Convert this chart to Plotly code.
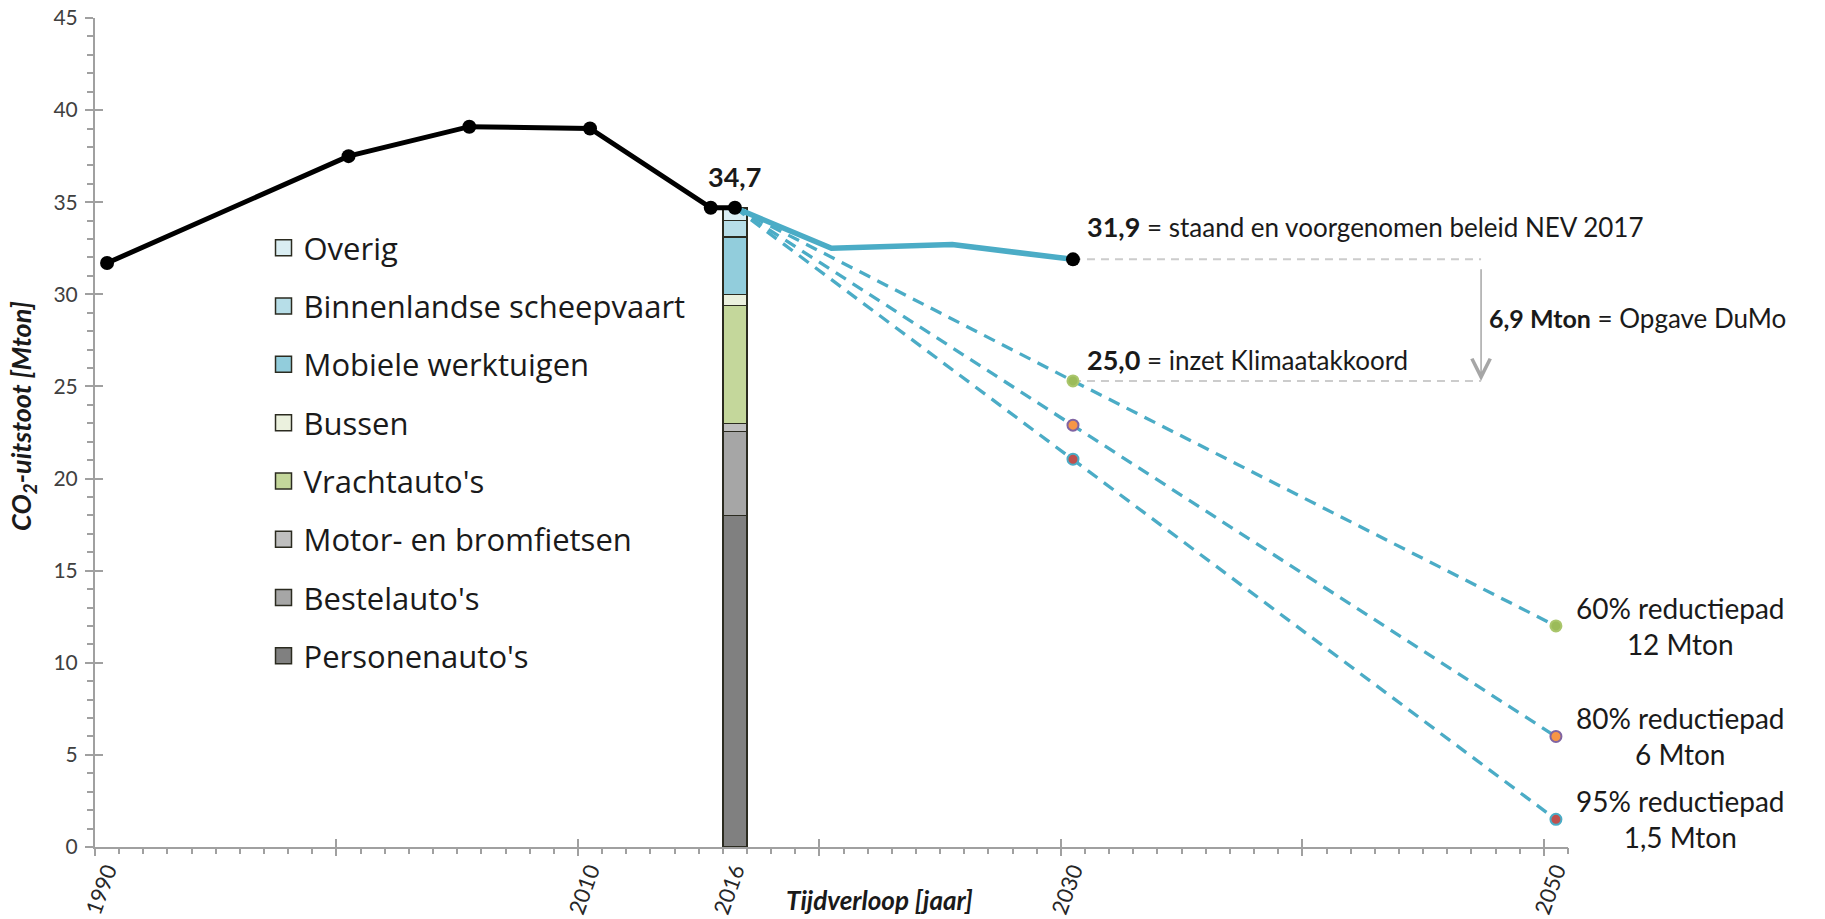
import plotly.graph_objects as go

# ---------------- data ----------------
hist_years = [1990, 2000, 2005, 2010, 2015, 2016]
hist_values = [31.7, 37.5, 39.1, 39.0, 34.7, 34.7]

nev_years = [2016, 2020, 2025, 2030]
nev_values = [34.7, 32.5, 32.7, 31.9]

path_years = [2016, 2030, 2050]
path60 = [34.7, 25.3, 12.0]
path80 = [34.7, 22.9, 6.0]
path95 = [34.7, 21.05, 1.5]
path_fill = ["#9bbb59", "#f79646", "#c0504d"]
path_edge = ["#aac66c", "#8064a2", "#4bacc6"]
path_labels = ["60% reductiepad<br>12 Mton", "80% reductiepad<br>6 Mton", "95% reductiepad<br>1,5 Mton"]

bar_year = [2016]
sectors = ["Personenauto's", "Bestelauto's", "Motor- en bromfietsen", "Vrachtauto's",
           "Bussen", "Mobiele werktuigen", "Binnenlandse scheepvaart", "Overig"]
sector_values = [18.0, 4.55, 0.45, 6.4, 0.6, 3.1, 0.9, 0.7]
sector_colors = ["#808080", "#a6a6a6", "#bfbfbf", "#c4d79b",
                 "#ebf1de", "#92cddc", "#b7dee8", "#daeef3"]

tick_years = [1990, 2010, 2016, 2030, 2050]
tick_labels = ["1990", "2010", "2016", "2030", "2050"]

label_2016 = "34,7"
label_nev = "31,9"
label_klimaat = "25,0"
label_gap = "6,9 Mton"
text_nev = " = staand en voorgenomen beleid NEV 2017"
text_klimaat = " = inzet Klimaatakkoord"
text_gap = " = Opgave DuMo"
y_title = "CO<sub>2</sub>-uitstoot [Mton]"
x_title = "Tijdverloop [jaar]"

# ---------------- style ----------------
AXIS_GRAY = "#a0a0a0"
TEAL = "#4bacc6"
FONT = "Lato"
TXT = "#1a1a1a"
arrow_x = 2046.9

fig = go.Figure()

# stacked bar 2016
for name, val, col in zip(sectors, sector_values, sector_colors):
    fig.add_trace(go.Bar(x=bar_year, y=[val], width=1.0, name=name,
                         marker=dict(color=col, line=dict(color="#2b2b20", width=1.5)),
                         showlegend=False, hoverinfo="name+y"))

# gray dashed reference lines to the arrow
for yv in [nev_values[-1], path60[1]]:
    fig.add_trace(go.Scatter(x=[nev_years[-1], arrow_x], y=[yv, yv], mode="lines",
                             line=dict(color="#cccccc", width=2, dash="8px,6px"),
                             showlegend=False, hoverinfo="skip"))

# reduction paths
for vals in [path60, path80, path95]:
    fig.add_trace(go.Scatter(x=path_years, y=vals, mode="lines",
                             line=dict(color=TEAL, width=3.3, dash="12px,8px"),
                             showlegend=False, hoverinfo="skip"))
for vals, fc, ec in zip([path60, path80, path95], path_fill, path_edge):
    fig.add_trace(go.Scatter(x=path_years[1:], y=vals[1:], mode="markers",
                             marker=dict(color=fc, size=11, line=dict(color=ec, width=2)),
                             showlegend=False))

# NEV 2017 line
fig.add_trace(go.Scatter(x=nev_years, y=nev_values, mode="lines",
                         line=dict(color=TEAL, width=5.5), showlegend=False))
fig.add_trace(go.Scatter(x=nev_years[-1:], y=nev_values[-1:], mode="markers",
                         marker=dict(color="black", size=14), showlegend=False))

# historical line
fig.add_trace(go.Scatter(x=hist_years, y=hist_values, mode="lines+markers",
                         line=dict(color="black", width=5),
                         marker=dict(color="black", size=14), showlegend=False))

# legend proxies (top to bottom)
for name, col in reversed(list(zip(sectors, sector_colors))):
    fig.add_trace(go.Scatter(x=[None], y=[None], mode="markers", name=name, legendgroup=name,
                             marker=dict(symbol="square", size=16, color=col,
                                         line=dict(color="#2b2b20", width=1.5))))

# dummy traces for overlay axes (tick styling)
fig.add_trace(go.Scatter(x=[None], y=[None], xaxis="x2", yaxis="y", showlegend=False, hoverinfo="skip"))
fig.add_trace(go.Scatter(x=[None], y=[None], xaxis="x3", yaxis="y", showlegend=False, hoverinfo="skip"))
fig.add_trace(go.Scatter(x=[None], y=[None], xaxis="x", yaxis="y2", showlegend=False, hoverinfo="skip"))

ann_font = dict(family=FONT, size=26, color=TXT)
annotations = [
    dict(x=bar_year[0], y=hist_values[-1], text=f"<b>{label_2016}</b>", showarrow=False,
         yshift=31, font=dict(family=FONT, size=27, color=TXT)),
    dict(x=nev_years[-1], y=nev_values[-1], xanchor="left", xshift=12, yshift=33, showarrow=False,
         text=f"<b><span style='font-size:27px'>{label_nev}</span></b>{text_nev}", font=ann_font),
    dict(x=path_years[1], y=path60[1], xanchor="left", xshift=12, yshift=21, showarrow=False,
         text=f"<b><span style='font-size:27px'>{label_klimaat}</span></b>{text_klimaat}", font=ann_font),
    dict(x=arrow_x, y=(nev_values[-1] + path60[1]) / 2, xanchor="left", xshift=6, yshift=2, showarrow=False,
         text=f"<b><span style='font-size:25px'>{label_gap}</span></b>{text_gap}", font=ann_font),
    dict(x=arrow_x, y=path60[1], ax=arrow_x, ay=nev_values[-1], xref="x", yref="y",
         axref="x", ayref="y", showarrow=True, arrowhead=5, arrowsize=2.4, arrowwidth=1.5,
         arrowcolor="#a6a6a6", text=" "),
    dict(x=2022, y=0, yshift=-53, text=f"<b><i>{x_title}</i></b>", showarrow=False,
         font=dict(family=FONT, size=26, color=TXT)),
    dict(x=0, xref="paper", y=0.52, yref="paper", xshift=-72, xanchor="center", yanchor="middle",
         textangle=-90, text=f"<b><i>{y_title}</i></b>", showarrow=False,
         font=dict(family=FONT, size=27, color=TXT)),
]
for vals, lab in zip([path60, path80, path95], path_labels):
    annotations.append(dict(x=path_years[-1], y=vals[-1], xanchor="left", xshift=18, yshift=0,
                            text=lab, align="center", showarrow=False,
                            font=dict(family=FONT, size=28, color=TXT)))

tick_style = dict(tickcolor=AXIS_GRAY, tickwidth=1.5)
fig.update_layout(
    width=1825, height=919,
    margin=dict(l=95, r=257, t=18, b=72, autoexpand=False),
    plot_bgcolor="white", paper_bgcolor="white",
    barmode="stack",
    showlegend=True,
    legend=dict(x=0.1144, y=0.755, xanchor="left", yanchor="top", traceorder="grouped",
                tracegroupgap=15, bgcolor="rgba(0,0,0,0)",
                font=dict(family="Open Sans", size=31, color=TXT)),
    xaxis=dict(range=[1989.5, 2050.5], tickmode="array", tickvals=tick_years, ticktext=tick_labels,
               ticks="", tickangle=-70, showline=True, linecolor=AXIS_GRAY, linewidth=2,
               showgrid=False, zeroline=False, automargin=False, ticklabeloverflow="allow",
               tickfont=dict(family=FONT, size=22, color="#262626")),
    xaxis2=dict(range=[1989.5, 2050.5], overlaying="x", anchor="y", tickmode="linear",
                tick0=1989.5, dtick=10, ticks="outside", ticklen=8, showticklabels=False,
                showline=False, showgrid=False, zeroline=False, automargin=False,
                minor=dict(ticks="outside", ticklen=6, tickmode="linear", tick0=1989.5, dtick=1,
                           showgrid=False, **tick_style), **tick_style),
    xaxis3=dict(range=[1989.5, 2050.5], overlaying="x", anchor="y", tickmode="linear",
                tick0=1989.5, dtick=10, ticks="inside", ticklen=8, showticklabels=False,
                showline=False, showgrid=False, zeroline=False, automargin=False, **tick_style),
    yaxis=dict(range=[0, 45], tickmode="linear", tick0=0, dtick=5, ticks="outside", ticklen=8,
               showline=True, linecolor=AXIS_GRAY, linewidth=2, showgrid=False, zeroline=False,
               ticklabelstandoff=3, automargin=False, ticklabeloverflow="allow",
               tickfont=dict(family=FONT, size=21, color="#404040"),
               minor=dict(ticks="outside", ticklen=6, tickmode="linear", tick0=0, dtick=1,
                          showgrid=False, **tick_style),
               **tick_style),
    yaxis2=dict(range=[0, 45], overlaying="y", anchor="x", side="left", tickmode="linear",
                tick0=0, dtick=5, ticks="inside", ticklen=8, showticklabels=False,
                showline=False, showgrid=False, zeroline=False, automargin=False, **tick_style),
    annotations=annotations,
)

# remove the browser's default 8px body margin so the figure fills the window exactly
fig.write_html("out.html", config={"displayModeBar": False},
               post_script="document.body.style.margin='0';")
